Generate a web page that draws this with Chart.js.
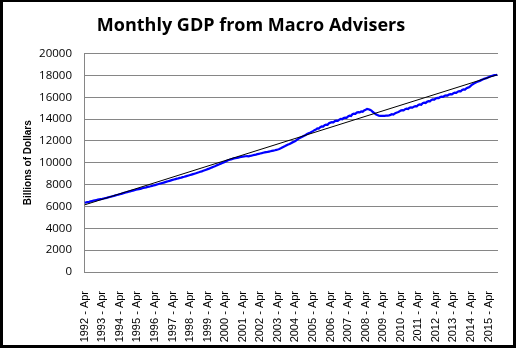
<!DOCTYPE html>
<html>
<head>
<meta charset="utf-8">
<script src="https://cdn.jsdelivr.net/npm/chart.js@4"></script>
<style>
  html, body { margin: 0; padding: 0; background: #000; }
  #frame { position: absolute; left: 3px; top: 2px; width: 510px; height: 343px; background: #fff; }
  #gdpChart { display: block; }
</style>
</head>
<body>
<div id="frame"><canvas id="gdpChart" width="510" height="343"></canvas></div>
<script>
// monthly values, one row per year running Apr .. Mar of the next year
const firstYear = 1992;
const lastYear = 2015;
const gdpMonthly = [
  6350, 6370, 6410, 6430, 6470, 6500, 6530, 6560, 6590, 6620, 6650, 6680,         // 1992
  6700, 6730, 6760, 6790, 6830, 6870, 6900, 6940, 6970, 7010, 7050, 7080,         // 1993
  7120, 7160, 7200, 7240, 7280, 7320, 7360, 7390, 7430, 7460, 7490, 7530,         // 1994
  7560, 7590, 7610, 7660, 7690, 7720, 7750, 7790, 7820, 7850, 7890, 7920,         // 1995
  7960, 8000, 8040, 8080, 8110, 8150, 8190, 8230, 8270, 8310, 8350, 8390,         // 1996
  8430, 8470, 8510, 8550, 8580, 8620, 8650, 8690, 8720, 8760, 8800, 8840,         // 1997
  8880, 8920, 8960, 9000, 9040, 9090, 9130, 9180, 9220, 9270, 9320, 9370,         // 1998
  9420, 9470, 9530, 9580, 9640, 9690, 9750, 9810, 9860, 9920, 9980, 10040,        // 1999
  10100, 10170, 10230, 10280, 10320, 10360, 10400, 10430, 10450, 10480, 10510, 10530, // 2000
  10560, 10580, 10600, 10620, 10600, 10640, 10660, 10690, 10720, 10750, 10790, 10820, // 2001
  10850, 10880, 10920, 10950, 10980, 11000, 11030, 11060, 11090, 11120, 11150, 11190, // 2002
  11220, 11270, 11330, 11400, 11470, 11530, 11600, 11670, 11730, 11800, 11870, 11930, // 2003
  12000, 12100, 12190, 12280, 12340, 12410, 12480, 12550, 12630, 12700, 12760, 12830, // 2004
  12900, 12990, 13040, 13150, 13130, 13260, 13330, 13310, 13440, 13500, 13480, 13620, // 2005
  13680, 13730, 13700, 13820, 13860, 13840, 13950, 14010, 13990, 14100, 14140, 14120, // 2006
  14250, 14310, 14290, 14450, 14500, 14480, 14600, 14640, 14620, 14700, 14680, 14790, // 2007
  14850, 14940, 14900, 14850, 14780, 14650, 14550, 14450, 14370, 14320, 14300, 14290, // 2008
  14300, 14300, 14310, 14320, 14350, 14390, 14450, 14420, 14520, 14580, 14630, 14690, // 2009
  14780, 14820, 14800, 14910, 14950, 14930, 15040, 15070, 15050, 15140, 15190, 15170, // 2010
  15290, 15350, 15320, 15460, 15500, 15480, 15590, 15650, 15630, 15750, 15800, 15780, // 2011
  15900, 15950, 15930, 16020, 16060, 16040, 16140, 16180, 16160, 16250, 16290, 16270, // 2012
  16370, 16420, 16400, 16510, 16560, 16540, 16670, 16720, 16700, 16830, 16880, 16930, // 2013
  17060, 17170, 17250, 17330, 17400, 17450, 17500, 17570, 17630, 17690, 17730, 17780, // 2014
  17840, 17900, 17950, 17990, 18020, 18040, 18060                                  // 2015
];
// linear trend, value at first and last month
const trendValues = [6150, 18060];
const yTicks = [0, 2000, 4000, 6000, 8000, 10000, 12000, 14000, 16000, 18000, 20000];

const yearLabels = [];
for (let y = firstYear; y <= lastYear; y++) {
  yearLabels.push(y + " - Apr");
}

const gdpPoints = gdpMonthly.map((v, i) => ({ x: i, y: v }));
const lastMonth = gdpMonthly.length - 1;
const trendPoints = [{ x: 0, y: trendValues[0] }, { x: lastMonth, y: trendValues[1] }];

const gridGray = "#868686";

new Chart(document.getElementById("gdpChart"), {
  type: "line",
  data: {
    datasets: [
      {
        label: "Trend",
        data: trendPoints,
        borderColor: "#000",
        borderWidth: 1,
        pointRadius: 0,
        order: 0
      },
      {
        label: "GDP",
        data: gdpPoints,
        borderColor: "#0000ff",
        borderWidth: 2.25,
        pointRadius: 0,
        tension: 0,
        order: 1
      }
    ]
  },
  options: {
    responsive: false,
    animation: false,
    events: [],
    layout: { padding: { left: 0, right: 14, top: 0, bottom: 0 } },
    plugins: {
      legend: { display: false },
      tooltip: { enabled: false },
      title: {
        display: true,
        text: "Monthly GDP from Macro Advisers",
        color: "#000",
        font: { family: "'Open Sans'", size: 18, weight: "bold" },
        padding: { top: 13, bottom: 17 }
      }
    },
    scales: {
      x: {
        type: "linear",
        min: -0.5,
        max: lastMonth + 0.5,
        grid: { display: false },
        border: { display: true, color: gridGray, width: 1 },
        afterBuildTicks: scale => {
          scale.ticks = yearLabels.map((l, i) => ({ value: i * 12 }));
        },
        afterFit: scale => { scale.height = 73; },
        ticks: {
          autoSkip: false,
          minRotation: 90,
          maxRotation: 90,
          padding: 11,
          color: "#000",
          font: { family: "'Liberation Sans'", size: 11 },
          callback: (value) => yearLabels[Math.round(value / 12)]
        }
      },
      y: {
        min: 0,
        max: 20000,
        afterBuildTicks: scale => {
          scale.ticks = yTicks.map(v => ({ value: v }));
        },
        afterFit: scale => { scale.width = 81; },
        grid: { color: gridGray, lineWidth: 1, drawTicks: false },
        border: { display: true, color: gridGray, width: 1 },
        ticks: {
          padding: 12,
          color: "#000",
          font: { family: "'Open Sans'", size: 11.5 },
          callback: value => String(value)
        },
        title: {
          display: true,
          text: "Billions of Dollars",
          color: "#000",
          font: { family: "'Liberation Sans'", size: 10, weight: "bold" },
          padding: { top: 19, bottom: 0 }
        }
      }
    }
  }
});
</script>
</body>
</html>
